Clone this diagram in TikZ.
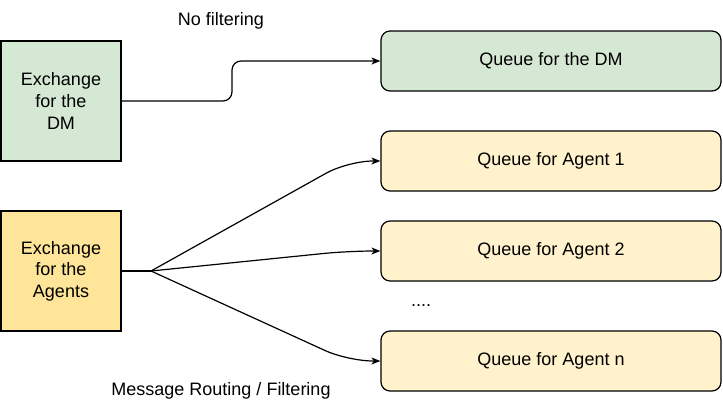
\documentclass[tikz,border=0pt]{standalone}
\usepackage{fontspec}
\setmainfont{Liberation Sans}
\usetikzlibrary{arrows.meta}
\definecolor{gfill}{HTML}{D5E8D4}
\definecolor{yfill}{HTML}{FFF2CC}
\definecolor{ydark}{HTML}{FFE599}
\begin{document}
\begin{tikzpicture}[x=1pt,y=-1pt,
  every node/.style={font=\fontsize{18}{21.6}\selectfont},
  exbox/.style={draw=black,line width=1.2pt,minimum width=120pt,minimum height=120pt,align=center,inner sep=0pt},
  qbox/.style={draw=black,line width=1.2pt,rounded corners=9pt,minimum width=340pt,minimum height=60pt,inner sep=0pt,fill=yfill},
  conn/.style={line width=1.2pt,-{Stealth[length=9pt,width=7pt,inset=2.5pt]}},
  lbl/.style={inner sep=0pt}]
\useasboundingbox (0,0) rectangle (723,416);
\node[exbox,fill=gfill] (exdm) at (61,101) {Exchange\\for the\\DM};
\node[exbox,fill=ydark] (exag) at (61,271) {Exchange\\for the\\Agents};
\node[qbox,fill=gfill] (qdm) at (551,61) {Queue for the DM};
\node[qbox] (q1) at (551,161) {Queue for Agent 1};
\node[qbox] (q2) at (551,251) {Queue for Agent 2};
\node[qbox] (qn) at (551,361) {Queue for Agent n};
\node[lbl] (nf) at (221,21) {No filtering};
\node[lbl] (dots) at (421,306) {....};
\node[lbl] (mr) at (221,391) {Message Routing / Filtering};
\coordinate (fan) at (151,271);
\draw[conn,rounded corners=9pt] (exdm.east) -- (232,101) -- (232,61) -- (qdm.west);
\draw[line width=1.2pt] (exag.east) -- (fan);
\draw[conn,rounded corners=25pt] (fan) -- (348,161) -- (q1.west);
\draw[conn,rounded corners=25pt] (fan) -- (348,251) -- (q2.west);
\draw[conn,rounded corners=25pt] (fan) -- (348,361) -- (qn.west);
\end{tikzpicture}
\end{document}
